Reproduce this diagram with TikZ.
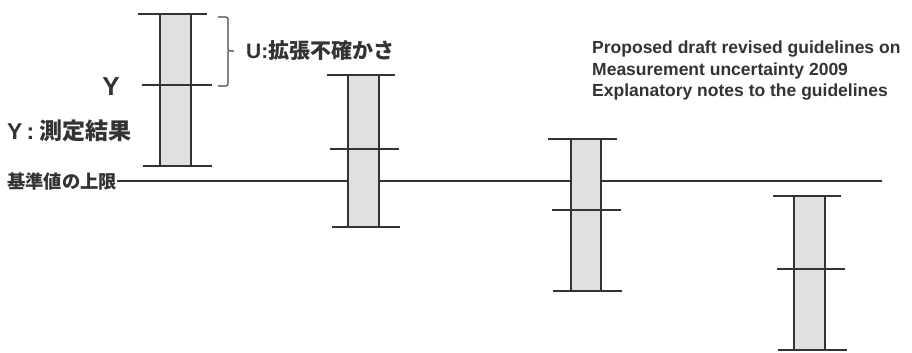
\documentclass[tikz,border=0pt]{standalone}
\usepackage{fontspec}
\setmainfont{Liberation Sans}
\newfontfamily\jp{Noto Sans CJK JP}
\begin{document}
\begin{tikzpicture}[x=1pt,y=-1pt,
  bar/.style={draw=black!80,line width=1.8pt,fill=black!12},
  whisk/.style={draw=black!80,line width=1.4pt},
  base/.style={draw=black!80,line width=1.3pt},
  lbl/.style={inner sep=0pt,font=\bfseries,text=black!80}]
\useasboundingbox (0,0) rectangle (912,353);
% limit line
\node[lbl,anchor=west,font=\bfseries\jp\fontsize{18.3}{18.3}\selectfont] (lim) at (7,182) {基準値の上限};
\coordinate (limend) at (882,181);
\draw[base] (lim.east |- limend) -- (limend);
% bars: left x, right x, top, mid, bottom
\foreach \n/\l/\r/\t/\m/\b/\tl/\tr/\ml/\mr/\bl/\br in {
  1/160/191/14/85/166/138/207/142/212/143/212,
  2/348/379/75/149/227/327/395/330/399/332/400,
  3/571/601/139/210/291/548/617/552/621/553/622,
  4/794/825/196/269/350/773/841/777/845/778/847}{
  \path[bar] (\l,\t) rectangle (\r,\b);
  \coordinate (t\n a) at (\tl,\t); \coordinate (t\n b) at (\tr,\t);
  \coordinate (m\n a) at (\ml,\m); \coordinate (m\n b) at (\mr,\m);
  \coordinate (b\n a) at (\bl,\b); \coordinate (b\n b) at (\br,\b);
  \draw[whisk] (t\n a) -- (t\n b);
  \draw[whisk] (m\n a) -- (m\n b);
  \draw[whisk] (b\n a) -- (b\n b);
}
% brace
\coordinate (brt) at (218,17);
\coordinate (brb) at (218,86);
\coordinate (brtip) at (234,51);
\draw[draw=black!75,line width=1.1pt,rounded corners=2pt]
  (brt) -- (228,17) -- (228,51) -- (brtip);
\draw[draw=black!75,line width=1.1pt,rounded corners=2pt]
  (brb) -- (228,86) -- (228,51);
% labels
\node[lbl,anchor=west,font=\bfseries\fontsize{21}{21}\selectfont] (u) at (246,51) {U:{\jp 拡張不確かさ}};
\node[lbl,font=\bfseries\fontsize{26}{26}\selectfont] (y) at (111,87) {Y};
\node[lbl,anchor=west,font=\bfseries\fontsize{23}{23}\selectfont] (yres) at (7,131) {Y\hspace{4pt}:\hspace{5pt}{\jp 測定結果}};
\node[lbl,anchor=north west,align=left,font=\bfseries\fontsize{17.5}{21.5}\selectfont] (note) at (592,41)
  {Proposed draft revised guidelines on\\Measurement uncertainty 2009\\Explanatory notes to the guidelines};
\end{tikzpicture}
\end{document}
